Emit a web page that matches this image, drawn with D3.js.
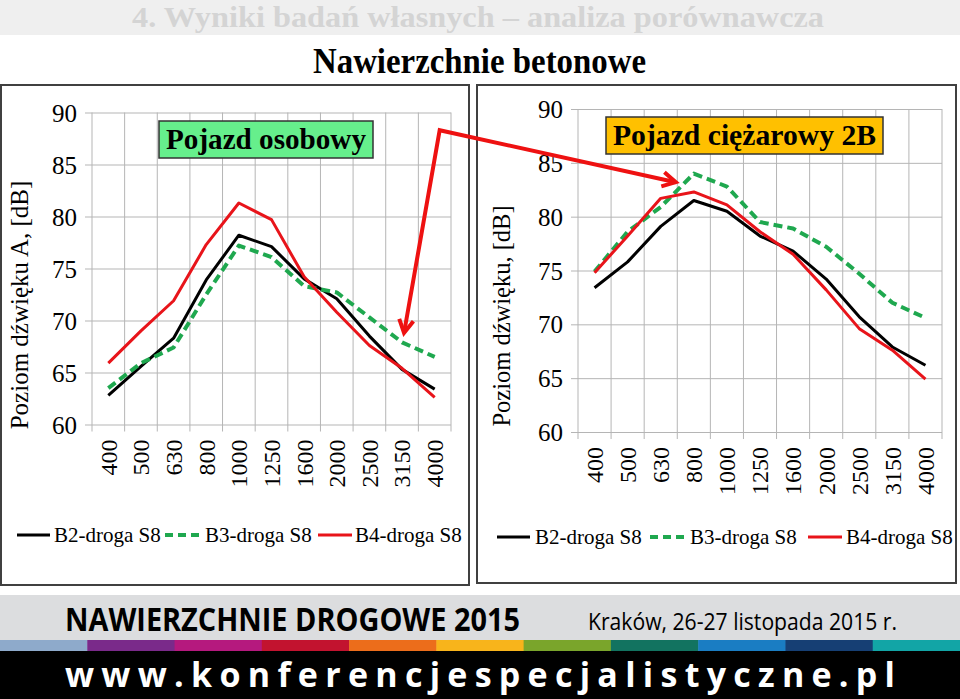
<!DOCTYPE html>
<html><head><meta charset="utf-8">
<script src="https://cdn.jsdelivr.net/npm/d3@7"></script>
<style>body{margin:0;background:#fff}svg{display:block}</style>
</head><body><svg id="c" width="960" height="699"></svg>
<script>
// ---------- data ----------
const categories = ["400","500","630","800","1000","1250","1600","2000","2500","3150","4000"];
const yTicks = [60,65,70,75,80,85,90];
const seriesNames = ["B2-droga S8","B3-droga S8","B4-droga S8"];
// Pojazd osobowy (left)
const carB2 = [62.8,65.6,68.3,73.9,78.2,77.1,74.0,72.1,68.5,65.3,63.4];
const carB3 = [63.5,65.9,67.4,72.5,77.2,76.1,73.3,72.7,70.3,67.9,66.5];
const carB4 = [65.9,69.0,71.9,77.3,81.3,79.7,74.2,70.8,67.6,65.4,62.6];
// Pojazd ciężarowy 2B (right)
const truckB2 = [73.4,75.8,79.1,81.5,80.5,78.2,76.8,74.2,70.7,67.9,66.2];
const truckB3 = [74.9,78.6,80.9,84.0,82.8,79.5,78.9,77.2,74.7,72.0,70.6];
const truckB4 = [74.8,78.2,81.7,82.3,81.1,78.6,76.5,73.2,69.6,67.6,64.9];
const stripeColors = ["#8eaacb","#7a2a8a","#b5197e","#c2132f","#ec6d1b","#f8b41b","#7aa52b","#127360","#1a7dc3","#163f74","#12a5a6"];

// ---------- styles ----------
const serif = "'Liberation Serif', 'Times New Roman', 'DejaVu Serif', serif";
const sans = "'Open Sans', 'Liberation Sans', sans-serif";
const seriesStyle = [
  {color:"#000000", width:3, dash:null},
  {color:"#1fa84f", width:4, dash:"9,5"},
  {color:"#e8141a", width:3, dash:null}
];

const svg = d3.select("#c");

// header
svg.append("rect").attr("x",0).attr("y",0).attr("width",960).attr("height",35).attr("fill","#efefef");
svg.append("text").attr("x",132).attr("y",27).style("font-family",serif).attr("font-weight","bold")
  .attr("font-size",30).attr("fill","#d4d4d4").attr("textLength",692).attr("lengthAdjust","spacingAndGlyphs")
  .text("4. Wyniki  badań własnych – analiza porównawcza");
svg.append("text").attr("x",313).attr("y",73).style("font-family",serif).attr("font-weight","bold")
  .attr("font-size",35).attr("fill","#000").attr("textLength",333).attr("lengthAdjust","spacingAndGlyphs")
  .text("Nawierzchnie  betonowe");

// panels
const panels = [
  {box:[1,85,468,500], plot:{x0:92,x1:451,y0:112.5,y1:424.5}, data:[carB2,carB3,carB4],
   ytitle:"Poziom dźwięku A, [dB]", ytx:28, yty:305, ytSize:25,
   label:"Pojazd  osobowy", lbox:[159,121,214,37], lfill:"#66ef8c",
   legend:{y:535, lines:[[17,50],[165,202],[318,352]], tx:[54,205,355]}},
  {box:[477,85,479,498], plot:{x0:578,x1:942,y0:109,y1:432}, data:[truckB2,truckB3,truckB4],
   ytitle:"Poziom dźwięku,  [dB]", ytx:510, yty:316, ytSize:24.5,
   label:"Pojazd  ciężarowy  2B", lbox:[606,117,277,37], lfill:"#ffc000",
   legend:{y:537, lines:[[497,530],[650,686],[808,842]], tx:[535,690,846]}}
];

const scales = [];
panels.forEach((p,pi) => {
  const g = svg.append("g");
  g.append("rect").attr("x",p.box[0]).attr("y",p.box[1]).attr("width",p.box[2]).attr("height",p.box[3])
    .attr("fill","none").attr("stroke","#404040").attr("stroke-width",2);
  const {x0,x1,y0,y1} = p.plot;
  const x = d3.scaleBand().domain(categories).range([x0,x1]).padding(0);
  const y = d3.scaleLinear().domain([60,90]).range([y1,y0]);
  scales.push({x,y});
  const gridColor = "#b5b5b5";
  // y axis with gridlines
  const ya = g.append("g").attr("transform",`translate(${x0},0)`)
    .call(d3.axisLeft(y).tickValues(yTicks).tickSize(-(x1-x0)).tickPadding(15));
  ya.attr("font-family",null);
  ya.select(".domain").remove();
  ya.selectAll(".tick line").attr("stroke",gridColor).attr("x1",-7).attr("stroke-width",1);
  ya.selectAll(".tick text").style("font-family",serif).style("font-size","25px").attr("fill","#000").attr("dy","0.34em");
  // vertical gridlines at band boundaries
  const bounds = categories.map(c=>x(c)).concat([x1]);
  g.append("g").selectAll("line").data(bounds).join("line")
    .attr("x1",d=>d).attr("x2",d=>d).attr("y1",y0).attr("y2",y1+7)
    .attr("stroke",gridColor).attr("stroke-width",1);
  // x tick labels (rotated)
  const xa = g.append("g").attr("transform",`translate(0,${y1})`)
    .call(d3.axisBottom(x).tickSize(0).tickPadding(0));
  xa.attr("font-family",null);
  xa.select(".domain").remove();
  xa.selectAll(".tick text").style("font-family",serif).style("font-size","24px").attr("fill","#000")
    .attr("transform","rotate(-90)").attr("text-anchor","end").attr("x",-15).attr("y",0).attr("dy","0.35em");
  // y title
  g.append("text").attr("transform",`translate(${p.ytx},${p.yty}) rotate(-90)`)
    .attr("text-anchor","middle").style("font-family",serif).attr("font-size",p.ytSize).attr("fill","#000")
    .text(p.ytitle);
  // series lines
  const line = d3.line().x((d,i)=>x(categories[i])+x.bandwidth()/2).y(d=>y(d));
  p.data.forEach((vals,si) => {
    const st = seriesStyle[si];
    g.append("path").datum(vals).attr("d",line).attr("fill","none")
      .attr("stroke",st.color).attr("stroke-width",st.width).attr("stroke-linejoin","round")
      .attr("stroke-dasharray",st.dash);
  });
  // label box
  g.append("rect").attr("x",p.lbox[0]).attr("y",p.lbox[1]).attr("width",p.lbox[2]).attr("height",p.lbox[3])
    .attr("fill",p.lfill).attr("stroke","#333").attr("stroke-width",1.5);
  g.append("text").attr("x",p.lbox[0]+p.lbox[2]/2).attr("y",p.lbox[1]+28).attr("text-anchor","middle")
    .style("font-family",serif).attr("font-weight","bold").attr("font-size",29).attr("fill","#000")
    .attr("textLength",p.lbox[2]-14).attr("lengthAdjust","spacingAndGlyphs").text(p.label);
  // legend
  seriesNames.forEach((name,si)=>{
    const st = seriesStyle[si];
    const Lg = p.legend;
    g.append("line").attr("x1",Lg.lines[si][0]).attr("x2",Lg.lines[si][1]).attr("y1",Lg.y).attr("y2",Lg.y)
      .attr("stroke",st.color).attr("stroke-width",st.width).attr("stroke-dasharray",st.dash?"8,5":null);
    g.append("text").attr("x",Lg.tx[si]).attr("y",Lg.y+7).style("font-family",serif).attr("font-size",21)
      .attr("fill","#000").text(name);
  });
});

// arrow annotation (in data coordinates)
const L = scales[0], R = scales[1];
const tip1 = [L.x("3150")+L.x.bandwidth()/2+2, L.y(68.8)];
const corner = [L.x("4000")+L.x.bandwidth()/2+5, L.y(88.3)];
const tip2 = [R.x("630")+R.x.bandwidth()/2+15, R.y(83.2)];
const arrowG = svg.append("g").attr("stroke","#ee1111").attr("fill","none").attr("stroke-width",4)
  .attr("stroke-linejoin","miter");
arrowG.append("path").attr("d",d3.line()([tip1,corner,tip2]));
function head(tip, from){
  const a = Math.atan2(tip[1]-from[1], tip[0]-from[0]);
  const len = 15, spread = 0.5;
  const p1 = [tip[0]-len*Math.cos(a-spread), tip[1]-len*Math.sin(a-spread)];
  const p2 = [tip[0]-len*Math.cos(a+spread), tip[1]-len*Math.sin(a+spread)];
  arrowG.append("path").attr("d",d3.line()([p1,tip,p2]));
}
head(tip1,corner); head(tip2,corner);

// footer
svg.append("rect").attr("x",0).attr("y",595).attr("width",960).attr("height",45).attr("fill","#dcdddf");
const sw = 960/stripeColors.length;
svg.append("g").selectAll("rect").data(stripeColors).join("rect")
  .attr("x",(d,i)=>i*sw).attr("y",640).attr("width",sw+0.5).attr("height",11).attr("fill",d=>d);
svg.append("rect").attr("x",0).attr("y",651).attr("width",960).attr("height",48).attr("fill","#000");
svg.append("text").attr("x",65).attr("y",631).style("font-family",sans).attr("font-weight","bold")
  .attr("font-size",32).attr("fill","#000").attr("textLength",455).attr("lengthAdjust","spacingAndGlyphs")
  .text("NAWIERZCHNIE DROGOWE 2015");
svg.append("text").attr("x",588).attr("y",630).style("font-family",sans)
  .attr("font-size",24).attr("fill","#000").attr("textLength",309).attr("lengthAdjust","spacingAndGlyphs")
  .text("Kraków, 26-27 listopada 2015 r.");
svg.append("text").attr("x",65).attr("y",687).style("font-family",sans).attr("font-weight","bold")
  .attr("font-size",34).attr("fill","#fff").attr("textLength",830).attr("lengthAdjust","spacing")
  .text("www.konferencjespecjalistyczne.pl");
</script></body></html>
